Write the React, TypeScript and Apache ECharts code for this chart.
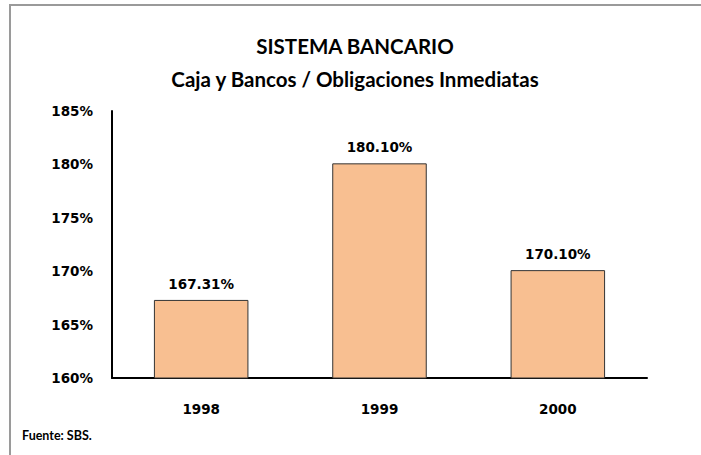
import React, { useEffect, useRef } from "react";
import * as echarts from "echarts";

const categories = ["1998", "1999", "2000"];
const values = [167.31, 180.1, 170.1];
const yMin = 160;
const yMax = 185;
const yInterval = 5;
const titleLines = ["SISTEMA BANCARIO", "Caja y Bancos / Obligaciones Inmediatas"];
const sourceText = "Fuente: SBS.";

export default function App() {
  const ref = useRef<HTMLDivElement>(null);
  useEffect(() => {
    if (!ref.current) return;
    const chart = echarts.init(ref.current, null, { renderer: "svg" });
    chart.setOption({
      animation: false,
      backgroundColor: "#ffffff",
      title: {
        text: titleLines.join("\n"),
        left: 350,
        textAlign: "center",
        top: 24,
        textStyle: {
          fontFamily: "Lato",
          fontWeight: "bold",
          fontSize: 20.5,
          lineHeight: 33,
          color: "#000000",
        },
      },
      graphic: [
        {
          type: "polyline",
          shape: { points: [[10, 460], [10, 5], [710, 5]] },
          style: { stroke: "#9a9a9a", lineWidth: 2, fill: "none" },
          silent: true,
        },
        {
          type: "text",
          left: 22,
          top: 429,
          style: {
            text: sourceText,
            fontFamily: "Lato",
            fontWeight: "bold",
            fontSize: 12.5,
            fill: "#000000",
          },
        },
      ],
      grid: { left: 112, right: 54, top: 111, bottom: 77, containLabel: false },
      xAxis: {
        type: "category",
        data: categories,
        axisLine: { lineStyle: { color: "#000000", width: 2 } },
        axisTick: { show: false },
        axisLabel: {
          margin: 24,
          fontFamily: "DejaVu Sans",
          fontWeight: "bold",
          fontSize: 13.5,
          color: "#000000",
        },
      },
      yAxis: {
        type: "value",
        min: yMin,
        max: yMax,
        interval: yInterval,
        axisLine: { show: true, lineStyle: { color: "#000000", width: 2 } },
        axisTick: { show: false },
        splitLine: { show: false },
        axisLabel: {
          formatter: "{value}%",
          margin: 19,
          fontFamily: "DejaVu Sans",
          fontWeight: "bold",
          fontSize: 13.5,
          color: "#000000",
        },
      },
      series: [
        {
          type: "bar",
          data: values,
          barWidth: "53%",
          itemStyle: { color: "#F8BF91", borderColor: "#333333", borderWidth: 1 },
          label: {
            show: true,
            position: "top",
            distance: 9,
            formatter: (p: any) => p.value.toFixed(2) + "%",
            fontFamily: "DejaVu Sans",
            fontWeight: "bold",
            fontSize: 13.5,
            color: "#000000",
          },
        },
      ],
    });
    return () => chart.dispose();
  }, []);
  return (
    <div
      ref={ref}
      style={{ position: "absolute", left: 0, top: 0, width: 701, height: 455 }}
    />
  );
}
